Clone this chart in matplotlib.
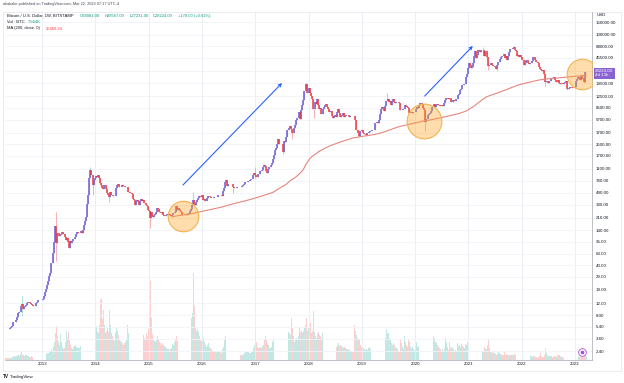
import numpy as np
import pandas as pd
import matplotlib
matplotlib.use('Agg')
import matplotlib.pyplot as plt
import matplotlib.dates as mdates
from matplotlib.ticker import FuncFormatter, NullLocator, NullFormatter
from matplotlib.patches import Rectangle

plt.rcParams['font.family'] = ['Liberation Sans', 'DejaVu Sans']

# BITSTAMP BTCUSD weekly closes, weeks start Monday 2011-08-15
close_2011 = [11.0, 8.6, 8.2, 6.9, 5.3, 5.6, 5.1, 4.7, 4.1, 2.9, 3.2, 3.0, 3.0, 2.2, 2.4, 2.8, 3.0, 3.2, 4.0, 4.7]
close_2012 = [6.8, 6.4, 6.3, 5.7, 6.0, 5.7, 4.8, 4.8, 4.9, 4.9, 5.3, 4.8, 4.9,
              4.9, 4.9, 5.0, 5.1, 5.0, 5.1, 5.0, 5.1, 5.2, 5.3, 5.6, 6.3, 6.4,
              6.7, 7.5, 8.6, 8.9, 9.0, 10.9, 11.6, 10.0, 10.6, 11.0, 11.3, 12.2, 12.3,
              12.6, 12.0, 11.7, 11.2, 10.8, 10.9, 11.0, 12.2, 12.5, 13.2, 13.5, 13.4, 13.5, 13.5]
close_2013 = [13.6, 15.3, 17.5, 19.6, 22.0, 25.5, 29.9, 33.4, 46, 47, 64, 93,
              162, 90, 127, 127, 115, 117, 122, 133, 122, 109, 100, 108, 95,
              76, 98, 91, 96, 104, 103, 110, 121, 130, 125, 128, 126, 136, 126,
              140, 166, 190, 214, 340, 450, 800, 1050, 905, 880, 630, 750, 810]
close_2014 = [860, 830, 890, 815, 680, 645, 580, 565, 630, 635, 565, 480, 450,
              420, 500, 460, 435, 440, 445, 570, 630, 650, 590, 595, 600, 635,
              625, 620, 600, 590, 590, 500, 510, 480, 480, 475, 400, 380, 330,
              375, 390, 355, 325, 370, 400, 375, 380, 350, 350, 320, 315, 275]
close_2015 = [265, 210, 253, 227, 220, 235, 240, 260, 290, 285, 260, 250, 255,
              235, 225, 225, 235, 240, 235, 240, 230, 225, 235, 245, 250, 260,
              310, 275, 290, 285, 265, 260, 230, 230, 230, 240, 230, 235, 240,
              245, 265, 280, 325, 380, 335, 325, 360, 390, 415, 435, 420, 430]
close_2016 = [448, 380, 400, 375, 375, 405, 440, 432, 405, 412, 410, 425, 420,
              420, 430, 450, 460, 460, 455, 440, 525, 575, 700, 760, 625, 660,
              650, 665, 660, 655, 590, 570, 580, 570, 600, 605, 605, 600, 605,
              615, 640, 655, 700, 705, 700, 740, 735, 750, 770, 790, 890, 965]
close_2017 = [905, 820, 920, 915, 1015, 1010, 1050, 1175, 1230, 1225, 1020, 960, 1090,
              1180, 1180, 1250, 1350, 1550, 1760, 2040, 2200, 2530, 2950, 2500, 2560, 2500,
              2500, 1920, 2760, 2740, 3220, 4060, 4090, 4340, 4600, 4230, 3680, 3620, 4380,
              4770, 5710, 5990, 6150, 7350, 5850, 8050, 9300, 11200, 14900, 19100, 13900, 13880]
close_2018 = [16500, 13800, 12800, 11600, 8200, 8100, 10400, 9600, 11500, 9500, 8200, 8500, 6900,
              7000, 8300, 8900, 9400, 9700, 8700, 8200, 7350, 7700, 7700, 6500, 6150, 6400,
              6750, 6350, 7400, 8200, 7050, 6300, 6400, 6700, 7200, 6250, 6500, 6700, 6600,
              6600, 6300, 6500, 6500, 6400, 6380, 5600, 4000, 4100, 3600, 3250, 3950, 3850, 4050]
close_2019 = [3600, 3550, 3550, 3450, 3650, 3650, 3800, 3850, 3900, 4000, 4000, 4100,
              5150, 5100, 5300, 5150, 5750, 7000, 8100, 8700, 8550, 7650, 9000, 10850, 10800,
              11400, 10200, 10600, 9500, 10800, 11400, 10300, 10100, 10400, 10400, 10300, 10000, 8050, 7950,
              8300, 8200, 9250, 9200, 8800, 8500, 7050, 7400, 7500, 7100, 7500, 7300, 7350]
close_2020 = [8150, 8700, 8350, 9350, 10150, 9900, 9650, 8550, 8050, 5350, 5850, 5900, 6800,
              6900, 7100, 7700, 8900, 8700, 9700, 8900, 9450, 9650, 9350, 9300, 9000, 9050,
              9250, 9150, 9950, 11100, 11700, 11850, 11650, 11700, 10250, 10300, 10900, 10750, 10650,
              11300, 11400, 13100, 13750, 15500, 15950, 18400, 18200, 19150, 19250, 23800, 26450, 33000]
close_2021 = [38200, 35800, 32300, 33100, 38800, 48600, 57400, 45200, 50900, 59000, 57300, 55800, 58800,
              59800, 60000, 49100, 56600, 58200, 46400, 34700, 35600, 35800, 39000, 35600, 34700, 35300,
              33800, 31800, 35400, 39900, 43800, 47000, 49300, 48800, 51700, 45100, 48300, 42700, 48200,
              54900, 61500, 61000, 61300, 63300, 65500, 58600, 57200, 49400, 50100, 46700, 50800, 47300]
close_2022 = [41800, 43100, 36300, 37900, 42400, 42200, 38300, 37700, 39000, 37800, 41300, 46800, 46400,
              42200, 39700, 39500, 38500, 34000, 31300, 30300, 29400, 29900, 26600, 20500, 21000, 19300,
              20800, 20800, 22500, 23300, 23200, 24300, 21500, 20000, 20000, 21800, 19400, 18800, 19300,
              19400, 19200, 19500, 20600, 20900, 16300, 16300, 16450, 17100, 17100, 16800, 16850, 16550]
close_2023 = [17100, 20900, 22700, 23700, 22950, 21800, 24600, 23550, 22400, 20600, 28081, 28224]

# weekly volume, thousand BTC
vol_2011 = [3, 3, 4, 5, 4, 3, 3, 3, 4, 5, 4, 3, 3, 4, 3, 3, 3, 3, 4, 5]
vol_2012 = [5, 6, 5, 5, 6, 5, 6, 5, 4, 4, 4, 5, 4,
            4, 4, 3, 4, 4, 3, 4, 3, 3, 4, 5, 6, 5,
            6, 7, 9, 8, 7, 10, 14, 9, 8, 7, 8, 8, 6,
            6, 5, 5, 6, 5, 5, 5, 6, 6, 6, 5, 5, 5, 6]
vol_2013 = [8, 9, 10, 11, 12, 12, 14, 15, 18, 16, 22, 30,
            45, 58, 40, 30, 26, 44, 30, 22, 18, 20, 30, 49, 38,
            48, 35, 25, 20, 18, 22, 24, 26, 22, 20, 22, 20, 24, 26,
            40, 42, 38, 46, 50, 78, 119, 90, 120, 140, 100, 60, 55]
vol_2014 = [58, 50, 45, 60, 102, 105, 70, 85, 60, 45, 50, 55, 48,
            85, 60, 45, 40, 35, 32, 45, 55, 50, 42, 35, 32, 30,
            28, 26, 28, 30, 35, 60, 45, 40, 35, 32, 55, 70, 80,
            75, 50, 45, 48, 70, 60, 45, 42, 38, 34, 45, 40, 52]
vol_2015 = [80, 134, 71, 44, 35, 32, 30, 34, 40, 35, 30, 28, 26,
            28, 25, 24, 22, 20, 18, 18, 17, 18, 20, 27, 26, 30,
            36, 40, 32, 30, 28, 35, 66, 60, 35, 30, 28, 26, 28,
            35, 45, 71, 80, 148, 92, 55, 50, 52, 48, 40, 35, 32]
vol_2016 = [45, 38, 30, 25, 22, 25, 28, 22, 20, 18, 16, 15, 14,
            14, 13, 14, 15, 14, 13, 12, 18, 22, 35, 41, 30, 22,
            18, 15, 13, 12, 27, 14, 12, 11, 10, 10, 9, 9, 9,
            9, 10, 12, 14, 13, 13, 14, 12, 12, 14, 15, 20, 26]
vol_2017 = [49, 30, 22, 20, 20, 22, 20, 24, 26, 35, 40, 35, 28,
            25, 20, 20, 22, 30, 35, 58, 45, 50, 54, 60, 45, 40,
            38, 58, 55, 35, 40, 50, 48, 45, 42, 71, 54, 40, 30,
            34, 38, 34, 40, 56, 48, 50, 45, 49, 55, 60, 71, 50]
vol_2018 = [56, 58, 62, 45, 50, 83, 48, 40, 38, 45, 48, 42, 40,
            38, 45, 42, 40, 38, 35, 32, 30, 28, 28, 30, 26, 24,
            22, 22, 26, 28, 24, 26, 24, 22, 20, 22, 20, 18, 18,
            17, 18, 16, 15, 15, 14, 60, 50, 42, 38, 34, 36, 26, 22]
vol_2019 = [22, 20, 18, 17, 18, 17, 20, 22, 18, 16, 15, 16,
            44, 28, 22, 24, 25, 40, 49, 50, 40, 30, 38, 53, 45,
            45, 38, 34, 28, 26, 28, 25, 22, 20, 18, 16, 15, 35, 28,
            22, 18, 41, 30, 25, 22, 35, 30, 24, 20, 22, 18, 17]
vol_2020 = [25, 30, 22, 24, 26, 28, 24, 30, 32, 66, 58, 40, 30,
            28, 26, 30, 46, 40, 38, 30, 28, 26, 22, 20, 18, 16,
            18, 16, 20, 37, 30, 22, 17, 31, 20, 22, 20, 18, 16,
            17, 16, 29, 24, 26, 22, 27, 24, 22, 20, 27, 25, 30]
vol_2021 = [49, 35, 32, 30, 22, 25, 24, 27, 20, 18, 17, 16, 15,
            14, 16, 22, 18, 18, 25, 36, 20, 14, 14, 12, 16, 12,
            10, 9, 11, 13, 12, 10, 9, 8, 9, 13, 8, 10, 8,
            9, 9, 8, 8, 8, 8, 10, 8, 12, 9, 8, 7, 6]
vol_2022 = [8, 6, 10, 9, 7, 6, 6, 7, 8, 6, 5, 6, 6,
            5, 5, 4, 5, 7, 12, 6, 5, 5, 8, 20, 12, 8,
            7, 6, 7, 6, 5, 5, 7, 6, 5, 8, 8, 9, 6,
            5, 5, 4, 7, 5, 15, 9, 6, 5, 5, 5, 4, 4]
vol_2023 = [6, 9, 8, 6, 5, 5, 7, 5, 5, 8, 9, 7.564]

wick_high = {'2012-08-13': 15.4, '2013-04-08': 259, '2013-11-25': 1163, '2015-11-02': 502,
             '2016-06-13': 780, '2017-01-02': 1150, '2017-12-11': 19666, '2019-06-24': 13880,
             '2021-04-12': 64900, '2021-11-08': 69000, '2023-03-20': 28567}
wick_low = {'2012-08-13': 7.8, '2013-04-08': 50, '2013-12-16': 455, '2014-04-07': 360,
            '2015-01-12': 152, '2016-08-01': 480, '2017-01-02': 810, '2017-07-10': 1830,
            '2017-09-11': 2970, '2018-02-05': 6000, '2018-12-10': 3150, '2020-03-09': 3850,
            '2021-05-17': 30000, '2021-07-19': 29300, '2022-06-13': 17600, '2022-11-07': 15500,
            '2023-03-06': 19550, '2023-03-20': 27231}

price_ticks = [150000, 100000, 68000, 45500, 29500, 19500, 12500, 8500, 5700, 3700, 2500, 1700,
               1100, 740, 490, 330, 210, 140, 95, 63, 43, 29, 19, 12, 8, 5.4, 3.6, 2.4]
hidden_tick = 29500  # sits under the last price tag
years = list(range(2013, 2024))

circle_dates = ['2015-08-24', '2020-02-28', '2023-02-20']
circle_prices = [224, 5470, 26560]
circle_sizes = [22, 25, 22]
arrow_from = [('2015-08-24', 636), ('2020-03-07', 12670)]
arrow_to = [('2017-07-03', 19600), ('2021-01-31', 68100)]

closes = (close_2011 + close_2012 + close_2013 + close_2014 + close_2015 + close_2016 + close_2017
          + close_2018 + close_2019 + close_2020 + close_2021 + close_2022 + close_2023)
volumes = (vol_2011 + vol_2012 + vol_2013 + vol_2014 + vol_2015 + vol_2016 + vol_2017
           + vol_2018 + vol_2019 + vol_2020 + vol_2021 + vol_2022 + vol_2023)

dates = pd.date_range('2011-08-15', periods=len(closes), freq='W-MON')
df = pd.DataFrame({'close': closes, 'volume': volumes}, index=dates)
df['open'] = df['close'].shift(1).fillna(df['close'])
df['high'] = df[['open', 'close']].max(axis=1)
df['low'] = df[['open', 'close']].min(axis=1)
for d, v in wick_high.items():
    df.loc[pd.Timestamp(d), 'high'] = v
for d, v in wick_low.items():
    df.loc[pd.Timestamp(d), 'low'] = v
df['ma'] = df['close'].rolling(200).mean()

x = mdates.date2num(df.index)
up = (df['close'] >= df['open']).values

BODY_UP, BODY_DN = '#7257d8', '#ef3b3f'
WICK_UP, WICK_DN = '#9fd8d2', '#f6a5a5'
VOL_UP, VOL_DN = '#c3e7e3', '#fad0d0'

fig = plt.figure(figsize=(6.24, 3.83), dpi=100)
rect = [5 / 624, 1 - 360 / 383, 587 / 624, 348 / 383]
ax_v = fig.add_axes(rect, zorder=1)
ax = fig.add_axes(rect, zorder=2, sharex=ax_v)
ax.patch.set_alpha(0)

# volume
ax_v.bar(x, df['volume'], width=5, color=np.where(up, VOL_UP, VOL_DN), linewidth=0)
ax_v.set_ylim(0, 590)
ax_v.axis('off')

# candles
ax.vlines(x[up], df['low'][up], df['high'][up], color=WICK_UP, lw=0.6, zorder=2)
ax.vlines(x[~up], df['low'][~up], df['high'][~up], color=WICK_DN, lw=0.6, zorder=2)
ax.vlines(x[up], df['open'][up], df['close'][up], color=BODY_UP, lw=1.1, zorder=3)
ax.vlines(x[~up], df['close'][~up], df['open'][~up], color=BODY_DN, lw=1.1, zorder=3)
ax.plot(x, df['ma'], color='#e5877c', lw=0.8, zorder=4)

# annotations
for d, p, s in zip(circle_dates, circle_prices, circle_sizes):
    ax.plot(mdates.datestr2num(d), p, 'o', ms=s, mfc=(1.0, 0.65, 0.15, 0.38),
            mec='#f6b24e', mew=0.8, zorder=5)
for (d0, p0), (d1, p1) in zip(arrow_from, arrow_to):
    ax.annotate('', xy=(mdates.datestr2num(d1), p1), xytext=(mdates.datestr2num(d0), p0),
                arrowprops=dict(arrowstyle='->', color='#2962ff', lw=0.8,
                                shrinkA=0, shrinkB=0, mutation_scale=5), zorder=6)

ax.set_yscale('log')
ax.set_ylim(1.774, 213400)
ax.set_xlim(mdates.datestr2num('2012-04-21'), mdates.datestr2num('2023-04-28'))
ax.set_yticks(price_ticks)
ax.yaxis.set_minor_locator(NullLocator())
ax.yaxis.set_minor_formatter(NullFormatter())
ax.yaxis.set_major_formatter(FuncFormatter(lambda v, p: '' if v == hidden_tick else f'{v:.2f}'))
ax.set_xticks([mdates.datestr2num(f'{y}-01-01') for y in years])
ax.set_xticklabels([str(y) for y in years])
ax.yaxis.tick_right()
ax.tick_params(axis='y', which='both', length=0, labelsize=3.2, pad=2.5, labelcolor='#131722')
ax.tick_params(axis='x', which='both', length=0, labelsize=3.2, pad=1.5, labelcolor='#131722')
ax.grid(True, axis='x', color='#e6ebf4', lw=0.6)
ax.grid(True, axis='y', color='#f0f3fa', lw=0.6)
ax.set_axisbelow(True)
for side in ['left', 'top']:
    ax.spines[side].set_visible(False)
for side in ['right', 'bottom']:
    ax.spines[side].set_color('#b2b5be')
    ax.spines[side].set_linewidth(0.6)

# last price tag
ax.annotate('28224.00\n4d 13h', xy=(1, 28224), xycoords=('axes fraction', 'data'),
            xytext=(2.2, 2.2), textcoords='offset points', ha='left', va='top',
            fontsize=3.2, color='white', linespacing=1.1, annotation_clip=False, zorder=10,
            bbox=dict(boxstyle='square,pad=0.35', fc='#8a63d2', ec='none'))
ax.plot([0.983], [0.023], 'o', ms=5.5, mfc='white', mec='#a64fd0', mew=0.6,
        transform=ax.transAxes, clip_on=False, zorder=10)
ax.plot([0.983], [0.023], 'o', ms=1.6, color='#a64fd0', transform=ax.transAxes,
        clip_on=False, zorder=11)

# outer frame
fig.add_artist(Rectangle((3 / 624, 1 - 371 / 383), 618 / 624, 359 / 383, transform=fig.transFigure,
                         fill=False, ec='#e0e3eb', lw=0.5))


def ftext(px, py, s, color='#131722', size=3.0, **kw):
    fig.text(px / 624, 1 - py / 383, s, color=color, fontsize=size, va='center', ha='left', **kw)


ftext(3, 4.5, 'akakakir published on TradingView.com, Mar 22, 2023 07:17 UTC-4', color='#434651', size=2.8)
ftext(7, 16, 'Bitcoin / U.S. Dollar, 1W, BITSTAMP')
teal = '#089981'
for px, s in [(80, 'O28081.00'), (105, 'H28567.00'), (130, 'L27231.00'), (153, 'C28224.00'),
              (178, '+170.00 (+0.61%)')]:
    ftext(px, 16, s, color=teal)
ftext(7, 22, 'Vol \u00b7 BTC')
ftext(28, 22, '7.564K', color=teal)
ftext(7, 28.5, 'MA (200, close, 0)')
ftext(46, 28.5, '25460.24', color='#f23645')
ftext(597, 15, 'USD', size=3.2)
ftext(3, 377, 'TV', size=3.4, weight='bold')
ftext(10, 377, 'TradingView', size=3.2)

fig.savefig('out.png', dpi=100)
